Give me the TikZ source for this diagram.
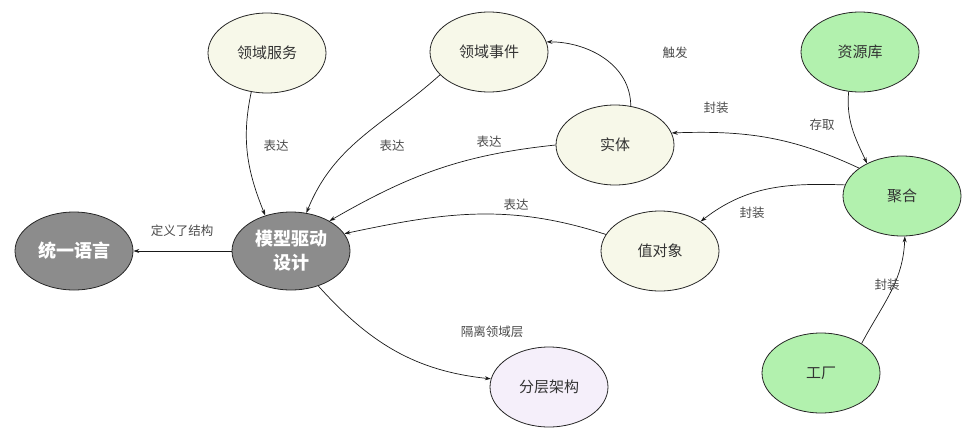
\documentclass[tikz,border=0pt]{standalone}
\usepackage{fontspec}
\setmainfont{Noto Sans CJK SC}
\newfontfamily\cjk{Noto Sans CJK SC}
\usetikzlibrary{shapes.geometric,arrows.meta}
\definecolor{graybg}{HTML}{8C8C8C}
\definecolor{cream}{HTML}{F7F8E9}
\definecolor{greenbg}{HTML}{B2F1AE}
\definecolor{lav}{HTML}{F5EFFA}
\definecolor{lbl}{HTML}{4A4A4A}
\tikzset{
  ell/.style={ellipse, draw=black!85, line width=0.8pt, minimum width=118pt, minimum height=80pt, inner sep=0pt, font=\cjk\fontsize{15}{18}\selectfont, text=black!80},
  core/.style={ell, fill=graybg, text=white, font=\cjk\bfseries\fontsize{18}{24}\selectfont, minimum height=78pt, align=center},
  soft/.style={ell, fill=cream},
  grn/.style={ell, fill=greenbg},
  lv/.style={ell, fill=lav},
  conn/.style={-{Stealth[length=6pt,width=4pt]}, line width=0.7pt, black!90},
  lab/.style={font=\cjk\fontsize{12.5}{14}\selectfont, text=lbl}
}
\begin{document}
\begin{tikzpicture}[x=1pt,y=-1pt]
\useasboundingbox (0,0) rectangle (976,439);
\node[core] (ul) at (74,251) {统一语言};
\node[core] (mdd) at (291,251) {模型驱动\\设计};
\node[soft] (svc) at (267,53) {领域服务};
\node[soft] (evt) at (489,52) {领域事件};
\node[soft] (ent) at (615,145) {实体};
\node[soft] (vo) at (660,251) {值对象};
\node[grn] (repo) at (860,52) {资源库};
\node[grn] (agg) at (902,196) {聚合};
\node[grn] (fac) at (821,373) {工厂};
\node[lv] (lay) at (549,387) {分层架构};

\draw[conn] (mdd.180) -- (ul.0);
\draw[conn] (svc.248) to[out=258,in=112] (mdd.126);
\draw[conn] (evt.205) to[out=222,in=68] (mdd.68);
\draw[conn] (ent.180) to[out=186,in=30] (mdd.38);
\draw[conn] (vo.163) to[out=162,in=12] (mdd.18);
\draw[conn] (ent.68) to[out=90,in=0] (evt.10);
\draw[conn] (agg.147) to[out=155,in=2] (ent.12);
\draw[conn] (repo.254) to[out=265,in=115] (agg.137);
\draw[conn] (agg.169) to[out=178,in=38] (vo.36);
\draw[conn] (fac.36) to[out=62,in=268] (agg.274);
\draw[conn] (mdd.308) to[out=-48,in=174] (lay.172);

\node[lab] (l1) at (182,231) {定义了结构};
\node[lab] (l2) at (276,146) {表达};
\node[lab] (l3) at (392,146) {表达};
\node[lab] (l4) at (489,142) {表达};
\node[lab] (l5) at (516,205) {表达};
\node[lab] (l6) at (675,53) {触发};
\node[lab] (l7) at (716,108) {封装};
\node[lab] (l8) at (822,125) {存取};
\node[lab] (l9) at (752,213) {封装};
\node[lab] (l10) at (887,285) {封装};
\node[lab] (l11) at (492,332) {隔离领域层};
\end{tikzpicture}
\end{document}
